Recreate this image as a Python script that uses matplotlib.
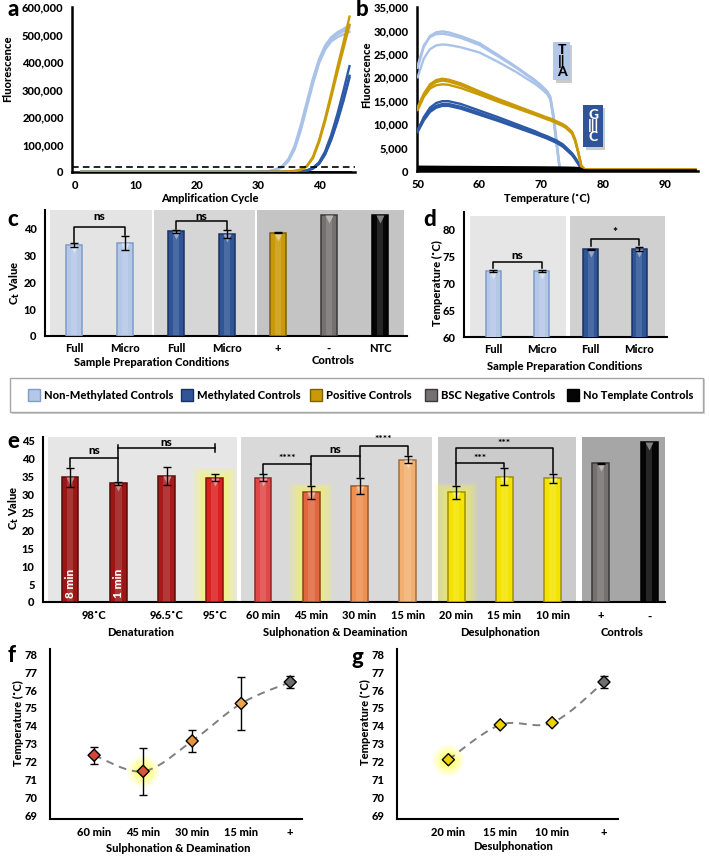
import numpy as np
import matplotlib
matplotlib.use('Agg')
import matplotlib.pyplot as plt
from matplotlib.patches import Rectangle
from matplotlib.ticker import FuncFormatter
from matplotlib.transforms import offset_copy

plt.rcParams['font.family'] = ['Lato', 'DejaVu Sans']
plt.rcParams['font.weight'] = 900
plt.rcParams['axes.labelweight'] = 900
plt.rcParams['font.size'] = 8

# ---------------- data ----------------
# a: amplification curves
amp_cycles = [1, 28, 30, 31, 32, 33, 34, 35, 36, 37, 38, 39, 40, 41, 42, 43, 44, 45]
amp_nonmeth = [
    [0, 0, 500, 1500, 4000, 10000, 22000, 48000, 95000, 170000, 255000, 340000, 410000, 460000, 490000, 508000, 520000, 535000],
    [0, 0, 400, 1200, 3500, 9000, 20000, 44000, 88000, 160000, 245000, 330000, 402000, 452000, 482000, 500000, 512000, 525000],
    [0, 0, 300, 1000, 3000, 8000, 18000, 40000, 82000, 150000, 235000, 320000, 395000, 445000, 475000, 490000, 500000, 510000],
]
amp_positive = [
    [0, 0, 0, 0, 200, 500, 1000, 2000, 4000, 9000, 22000, 55000, 115000, 195000, 285000, 380000, 470000, 565000],
    [0, 0, 0, 0, 150, 400, 800, 1600, 3500, 8000, 20000, 50000, 108000, 185000, 272000, 362000, 448000, 535000],
]
amp_meth = [
    [0, 0, 0, 0, 0, 100, 300, 600, 1200, 2500, 6000, 15000, 35000, 75000, 135000, 210000, 295000, 385000],
    [0, 0, 0, 0, 0, 100, 250, 500, 1000, 2200, 5000, 13000, 31000, 67000, 122000, 190000, 265000, 350000],
    [0, 0, 0, 0, 0, 80, 200, 450, 900, 2000, 4600, 12000, 29000, 63000, 116000, 182000, 258000, 343000],
]
amp_ntc = [0, 0, 0, 0, 0, 0, 0, 0, 0, 0, 0, 0, 0, 0, 0, 0, 0, 0]
amp_threshold = 20000

# b: melt curves
melt_temp = [50, 51, 52, 53, 54, 55, 57, 60, 63, 66, 69, 70, 71, 71.5, 72, 72.5, 73, 73.5, 74, 75, 75.5, 76, 76.5, 77, 78, 85, 95]
melt_nonmeth = [
    [22000, 26500, 28800, 29600, 29800, 29600, 28800, 27300, 24800, 22200, 19400, 18300, 17000, 15800, 12000, 6500, 800, 0, 0, 0, 0, 0, 0, 0, 0, 0, 0],
    [22500, 26800, 28600, 29200, 29300, 29100, 28400, 26900, 24500, 22000, 19200, 18100, 16800, 15500, 11500, 6000, 600, 0, 0, 0, 0, 0, 0, 0, 0, 0, 0],
    [20000, 24000, 26000, 26800, 27000, 26900, 26400, 25300, 23300, 21100, 18600, 17600, 16400, 15200, 11000, 5500, 500, 0, 0, 0, 0, 0, 0, 0, 0, 0, 0],
]
melt_positive = [
    [13600, 16500, 18500, 19400, 19700, 19500, 18700, 17000, 15400, 13900, 12400, 11900, 11400, 11200, 10900, 10600, 10300, 10000, 9600, 8400, 6800, 4200, 1200, 400, 350, 350, 300],
    [13300, 16200, 18100, 19000, 19300, 19100, 18300, 16700, 15100, 13700, 12200, 11700, 11200, 11000, 10700, 10400, 10100, 9800, 9400, 8200, 6600, 4000, 1100, 380, 320, 320, 290],
    [13000, 15800, 17600, 18300, 18500, 18400, 17700, 16300, 14800, 13400, 12000, 11500, 11000, 10800, 10500, 10200, 9900, 9600, 9200, 8000, 6400, 3900, 1000, 350, 300, 300, 280],
]
melt_meth = [
    [8600, 11500, 13500, 14500, 14900, 14900, 14300, 12900, 11500, 10000, 8500, 7900, 7400, 7100, 6800, 6500, 6100, 5700, 5100, 3800, 2900, 1800, 600, 250, 200, 200, 200],
    [8800, 11200, 13000, 13900, 14300, 14300, 13700, 12400, 11000, 9600, 8100, 7600, 7100, 6800, 6500, 6200, 5800, 5400, 4800, 3600, 2700, 1600, 500, 220, 200, 200, 200],
    [8300, 10800, 12600, 13500, 13900, 13900, 13300, 12000, 10700, 9300, 7900, 7400, 6900, 6600, 6300, 6000, 5600, 5200, 4600, 3400, 2500, 1500, 450, 200, 180, 180, 180],
]
melt_black = [
    [900, 890, 880, 870, 860, 850, 840, 820, 800, 780, 760, 750, 740, 735, 730, 725, 720, 710, 700, 680, 660, 620, 400, 100, 50, 50, 50],
    [500, 495, 490, 485, 480, 475, 470, 460, 450, 440, 430, 425, 420, 418, 415, 412, 410, 405, 400, 390, 380, 350, 200, 50, 20, 20, 20],
    [150, 150, 145, 145, 140, 140, 135, 130, 125, 120, 115, 112, 110, 108, 106, 104, 102, 100, 98, 95, 90, 80, 50, 10, 0, 0, 0],
]
melt_tags = ['T\n||\nA', 'G\n|||\nC']

# c: Ct values, sample preparation
c_labels = ['Full', 'Micro', 'Full', 'Micro', '+', '-', 'NTC']
c_ct = [33.7, 34.5, 38.8, 37.8, 38.2, 44.7, 44.7]
c_err = [0.6, 2.6, 0.6, 1.4, 0.2, 0.0, 0.0]

# d: melt temperature, sample preparation
d_labels = ['Full', 'Micro', 'Full', 'Micro']
d_tm = [72.3, 72.3, 76.3, 76.3]
d_err = [0.2, 0.2, 0.12, 0.35]

# e: Ct values, bisulfite conversion steps
e_ct = [34.8, 33.2, 35.1, 34.7, 34.7, 30.6, 32.5, 39.8, 30.6, 35.0, 34.6, 38.8, 44.8]
e_err = [2.6, 0.45, 2.5, 1.0, 1.0, 1.8, 2.2, 1.1, 1.8, 2.4, 1.3, 0.15, 0.0]
e_ticklabels = ['98˚C', '96.5˚C', '95˚C', '60 min', '45 min', '30 min', '15 min',
                '20 min', '15 min', '10 min', '+', '-']
e_groups = ['Denaturation', 'Sulphonation & Deamination', 'Desulphonation', 'Controls']
e_bar_text = ['8 min', '1 min']

# f / g: melt temperature
f_labels = ['60 min', '45 min', '30 min', '15 min', '+']
f_tm = [72.35, 71.45, 73.15, 75.25, 76.45]
f_err = [0.47, 1.33, 0.6, 1.5, 0.32]
g_labels = ['20 min', '15 min', '10 min', '+']
g_tm = [72.1, 74.05, 74.17, 76.45]
g_err = [0.08, 0.08, 0.08, 0.35]

legend_names = ['Non-Methylated Controls', 'Methylated Controls', 'Positive Controls',
                'BSC Negative Controls', 'No Template Controls']

# ---------------- colours ----------------
LB, LB_E = '#b4c7e7', '#7f9cc8'
DB, DB_E = '#2f5597', '#1a3260'
GOLD, GOLD_E = '#c99a06', '#7f6000'
GREY, GREY_E = '#767171', '#3a3838'
BLK, BLK_E = '#050505', '#000000'
LINE_LB, LINE_DB, LINE_GOLD = '#a9c3e8', '#2d5aa6', '#c99a06'

e_colors = ['#9c1616', '#9c1616', '#a81a1a', '#dc2020', '#e04848', '#e0683e', '#ee9050', '#f2b070',
            '#f4e200', '#f4e200', '#f4e200', GREY, BLK]
e_edges = ['#5a0a0a', '#5a0a0a', '#600c0c', '#8a1010', '#902828', '#904020', '#9a5a28', '#a07040',
           '#a09000', '#a09000', '#a09000', GREY_E, BLK_E]
f_colors = ['#d9443a', '#dc5538', '#e8913f', '#eba44a', '#6e6e6e']
g_colors = ['#eed200', '#eed200', '#eed200', '#6e6e6e']

W, H = 709, 856
fig = plt.figure(figsize=(W / 100, H / 100), dpi=100)
fig.patch.set_facecolor('white')


def pos(x0, y0, x1, y1):
    return [x0 / W, 1 - y1 / H, (x1 - x0) / W, (y1 - y0) / H]


def ftext(x, y, s, **kw):
    fig.text(x / W, 1 - y / H, s, ha=kw.pop('ha', 'center'), va=kw.pop('va', 'center'), **kw)


def style(ax, lw=1.5, xpad=5, ypad=6):
    for s in ['top', 'right']:
        ax.spines[s].set_visible(False)
    for s in ['left', 'bottom']:
        ax.spines[s].set_linewidth(lw)
        ax.spines[s].set_color('black')
    ax.tick_params(length=0, labelsize=8)
    ax.tick_params(axis='x', pad=xpad)
    ax.tick_params(axis='y', pad=ypad)


def lighten(c, f):
    r = np.array(matplotlib.colors.to_rgb(c))
    return tuple(r + (1 - r) * f)


def fancy_bars(ax, xs, hs, colors, edges, w):
    ax.bar(xs, hs, w, color=colors, linewidth=0, zorder=3)
    ax.bar(xs, hs, w * 0.4, color=[lighten(c, 0.3) for c in colors], alpha=0.45, linewidth=0, zorder=3.1)
    ax.bar(xs, hs, w, fill=False, edgecolor=edges, linewidth=1.1, zorder=3.2)
    tr = offset_copy(ax.transData, fig=fig, y=-4, units='dots')
    for x, h, c in zip(xs, hs, colors):
        ax.plot(x, h, marker='v', ms=5.5, color=lighten(c, 0.5), mec='none', transform=tr, zorder=3.3)


def bar_glow(ax, x, h, w, yscale):
    for pad in [0.26, 0.2, 0.14, 0.08]:
        ax.add_patch(Rectangle((x - w / 2 - pad, 0), w + 2 * pad, h + pad * yscale,
                               color='#ffff30', alpha=0.15, lw=0, zorder=2))


def bracket(ax, x1, x2, y, low1, low2, label, ty, fs=8.5):
    ax.plot([x1, x1, x2, x2], [low1, y, y, low2], color='black', lw=1.1, zorder=5)
    ax.text((x1 + x2) / 2, ty, label, ha='center', va='center', fontsize=fs, zorder=5)


def smooth(xs, ys, n=40):
    pts = np.column_stack([xs, ys]).astype(float)
    P = np.vstack([pts[0], pts, pts[-1]])
    out = []
    t = np.linspace(0, 1, n)[:, None]
    for i in range(1, len(P) - 2):
        p0, p1, p2, p3 = P[i - 1], P[i], P[i + 1], P[i + 2]
        out.append(0.5 * (2 * p1 + (-p0 + p2) * t + (2 * p0 - 5 * p1 + 4 * p2 - p3) * t ** 2
                          + (-p0 + 3 * p1 - 3 * p2 + p3) * t ** 3))
    out = np.vstack(out)
    return out[:, 0], out[:, 1]


# ---------------- a ----------------
ax = fig.add_axes(pos(72, 7, 355, 172))
ax.plot(amp_cycles, amp_ntc, color='black', lw=2, zorder=2)
for v in amp_nonmeth:
    ax.plot(amp_cycles, v, color=LINE_LB, lw=1.7, zorder=3)
for v in amp_meth:
    ax.plot(amp_cycles, v, color=LINE_DB, lw=1.7, zorder=3)
for v in amp_positive:
    ax.plot(amp_cycles, v, color=LINE_GOLD, lw=1.7, zorder=4)
ax.axhline(amp_threshold, color='black', ls=(0, (4, 2.5)), lw=1.2, zorder=5)
ax.set_xlim(-0.5, 45.9)
ax.set_ylim(0, 600000)
ax.set_xticks([0, 10, 20, 30, 40])
ax.set_yticks(np.arange(0, 600001, 100000))
ax.yaxis.set_major_formatter(FuncFormatter(lambda v, _: f'{v:,.0f}'))
style(ax, lw=1.8, xpad=6, ypad=6)
ftext(8, 69, 'Fluorescence', rotation=90)
ftext(210, 198, 'Amplification Cycle')
ftext(13, 10, 'a', fontsize=16)

# ---------------- b ----------------
ax = fig.add_axes(pos(417, 7, 698, 171))
for v in melt_nonmeth:
    ax.plot(melt_temp, v, color=LINE_LB, lw=1.7, zorder=3)
for v in melt_meth:
    ax.plot(melt_temp, v, color=LINE_DB, lw=1.7, zorder=3)
for v in melt_positive:
    ax.plot(melt_temp, v, color=LINE_GOLD, lw=1.7, zorder=4)
for v in melt_black:
    ax.plot(melt_temp, v, color='black', lw=1.8, zorder=5)
ax.set_xlim(49.9, 95.4)
ax.set_ylim(0, 35000)
ax.set_xticks([50, 60, 70, 80, 90])
ax.set_yticks(np.arange(0, 35001, 5000))
ax.yaxis.set_major_formatter(FuncFormatter(lambda v, _: f'{v:,.0f}'))
style(ax, lw=1.8, xpad=6, ypad=6)
# base-pair tags: (x0, x1, y0, y1) boxes in data units
for txt, (x0, x1, y0, y1), fc, tc in zip(melt_tags,
                                          [(72.0, 74.6, 19400, 27500), (76.8, 80.0, 5100, 14100)],
                                          [LB, DB], ['black', 'white']):
    ax.add_patch(Rectangle((x0 + 0.4, y0 - 700), x1 - x0, y1 - y0, fc='#8c8c8c', ec='none', alpha=0.45, zorder=6))
    ax.add_patch(Rectangle((x0, y0), x1 - x0, y1 - y0, fc=fc, ec='none', zorder=7))
    ax.text((x0 + x1) / 2, (y0 + y1) / 2, txt, ha='center', va='center', fontsize=10, color=tc,
            linespacing=0.85, zorder=8)
ftext(367, 75, 'Fluorescence', rotation=90)
ftext(547, 198, 'Temperature (˚C)')
ftext(362, 10, 'b', fontsize=16)

# ---------------- c ----------------
ax = fig.add_axes(pos(45, 210, 407, 336))
cx = np.arange(len(c_labels))
for a0, a1, col in [(-0.47, 1.53, '#e4e4e4'), (1.57, 3.55, '#d6d6d6'), (3.59, 6.47, '#c4c4c4')]:
    ax.axvspan(a0, a1, color=col, lw=0, zorder=0)
c_cols = [LB, LB, DB, DB, GOLD, GREY, BLK]
c_edges = [LB_E, LB_E, DB_E, DB_E, GOLD_E, GREY_E, BLK_E]
fancy_bars(ax, cx, c_ct, c_cols, c_edges, 0.31)
ax.errorbar(cx[:5], c_ct[:5], yerr=c_err[:5], fmt='none', ecolor='black', elinewidth=1, capsize=3, capthick=1, zorder=6)
bracket(ax, 0, 1, 40.3, c_ct[0] + c_err[0] + 0.2, c_ct[1] + c_err[1] + 0.2, 'ns', 44.4)
bracket(ax, 2, 3, 42.5, c_ct[2] + c_err[2] + 0.2, c_ct[3] + c_err[3] + 0.2, 'ns', 44.4)
ax.set_xlim(-0.57, 6.53)
ax.set_ylim(0, 46.7)
ax.set_xticks(cx, c_labels)
ax.set_yticks([0, 10, 20, 30, 40])
style(ax, lw=1.5, xpad=5, ypad=6)
ftext(15, 283, 'C$_\\mathbf{t}$ Value', rotation=90)
ftext(152, 362, 'Sample Preparation Conditions')
ftext(333, 361, 'Controls')
ftext(13, 220, 'c', fontsize=16)

# ---------------- d ----------------
ax = fig.add_axes(pos(464, 212, 667, 337))
dx = np.arange(len(d_labels))
for a0, a1, col in [(-0.47, 1.5, '#e6e6e6'), (1.57, 3.53, '#d0d0d0')]:
    ax.add_patch(Rectangle((a0, 60), a1 - a0, 22.5, color=col, lw=0, zorder=0))
fancy_bars(ax, dx, d_tm, [LB, LB, DB, DB], [LB_E, LB_E, DB_E, DB_E], 0.31)
ax.errorbar(dx, d_tm, yerr=d_err, fmt='none', ecolor='black', elinewidth=1, capsize=3, capthick=1, zorder=6)
bracket(ax, 0, 1, 74.0, 72.8, 72.8, 'ns', 75.1)
bracket(ax, 2, 3, 78.1, 76.8, 77.0, '*', 79.4)
ax.set_xlim(-0.6, 3.57)
ax.set_ylim(60, 83.2)
ax.set_xticks(dx, d_labels)
ax.set_yticks([60, 65, 70, 75, 80])
style(ax, lw=1.5, xpad=5, ypad=6)
ftext(437, 283, 'Temperature (˚C)', rotation=90)
ftext(565, 366, 'Sample Preparation Conditions')
ftext(430, 219, 'd', fontsize=16)

# ---------------- legend strip ----------------
fig.add_artist(Rectangle((12 / W, 1 - 414 / H), 693 / W, 35 / H, transform=fig.transFigure,
                         fc='#b0b0b0', ec='none', alpha=0.6))
fig.add_artist(Rectangle((10 / W, 1 - 412 / H), 693 / W, 34 / H, transform=fig.transFigure,
                         fc='white', ec='#a6a6a6', lw=1))
legend_cols = [LB, DB, GOLD, GREY, BLK]
legend_edges = [LB_E, DB_E, GOLD_E, GREY_E, BLK_E]
for name, col, ec, x0 in zip(legend_names, legend_cols, legend_edges, [28, 181, 310, 425, 567]):
    fig.add_artist(Rectangle((x0 / W, 1 - 401 / H), 12 / W, 12 / H, transform=fig.transFigure,
                             fc=col, ec=ec, lw=1))
    ftext(x0 + 16, 395, name, ha='left', fontsize=8)

# ---------------- e ----------------
ax = fig.add_axes(pos(43, 437, 665, 602))
ex = np.arange(len(e_ct))
for a0, a1, col in [(-0.45, 3.46, '#e6e6e6'), (3.55, 7.5, '#d9d9d9'), (7.62, 10.49, '#cbcbcb'), (10.6, 12.33, '#a6a6a6')]:
    ax.axvspan(a0, a1, color=col, lw=0, zorder=0)
for i in [3, 5, 8]:
    bar_glow(ax, ex[i], e_ct[i], 0.35, 10)
fancy_bars(ax, ex, e_ct, e_colors, e_edges, 0.35)
ax.errorbar(ex[:12], e_ct[:12], yerr=e_err[:12], fmt='none', ecolor='black', elinewidth=1, capsize=3, capthick=1, zorder=6)
for i, s in enumerate(e_bar_text):
    ax.text(ex[i], 5.2, s, rotation=90, ha='center', va='center', color='white', fontsize=8.5, zorder=7)
top = [c + e for c, e in zip(e_ct, e_err)]
bracket(ax, 0, 1, 40.3, top[0] + 0.2, top[1] + 0.2, 'ns', 42.2)
ax.plot([1, 3], [43, 43], color='black', lw=1.1, zorder=5)
ax.plot([1, 1], [40.3, 43.9], color='black', lw=1.1, zorder=5)
ax.plot([3, 3], [41.8, 44.1], color='black', lw=1.1, zorder=5)
ax.text(2, 44.6, 'ns', ha='center', va='center', fontsize=8.5, zorder=5)
bracket(ax, 4, 5, 38.5, top[4] + 0.2, top[5] + 0.2, '****', 40.2, fs=7.5)
bracket(ax, 5, 6, 40.9, 38.5, top[6] + 0.2, 'ns', 42.7)
bracket(ax, 6, 7, 43.7, 40.9, top[7] + 0.2, '****', 45.3, fs=7.5)
bracket(ax, 8, 9, 38.7, top[8] + 0.2, top[9] + 0.2, '***', 40.1, fs=7.5)
bracket(ax, 8, 10, 43.0, 38.7, top[10] + 0.2, '***', 44.4, fs=7.5)
ax.set_xlim(-0.56, 12.33)
ax.set_ylim(0, 46.1)
ax.set_xticks([0.5] + list(ex[2:]), e_ticklabels)
ax.set_yticks(np.arange(0, 46, 5))
style(ax, lw=1.5, xpad=6, ypad=6)
for name, x in zip(e_groups, [141, 335, 500, 622]):
    ftext(x, 633, name)
ftext(14, 508, 'C$_\\mathbf{t}$ Value', rotation=90)
ftext(13, 441, 'e', fontsize=16)

# ---------------- f ----------------
ax = fig.add_axes(pos(50, 649, 302, 819))
fx = np.arange(len(f_labels))
sx, sy = smooth(fx, f_tm)
ax.plot(sx, sy, color='#7f7f7f', ls=(0, (4, 3)), lw=1.4, zorder=2)
for s, a in [(520, 0.12), (360, 0.16), (220, 0.22), (120, 0.3)]:
    ax.scatter(fx[1], f_tm[1], s=s, color='#ffff30', alpha=a, lw=0, zorder=1)
ax.errorbar(fx, f_tm, yerr=f_err, fmt='none', ecolor='black', elinewidth=1, capsize=3, capthick=1, zorder=3)
ax.scatter(fx, f_tm, marker='D', s=38, c=f_colors, edgecolors='black', linewidths=1, zorder=4)
ax.set_xlim(-0.9, 4.24)
ax.set_ylim(68.78, 78.3)
ax.set_xticks(fx, f_labels)
ax.set_yticks(np.arange(69, 79, 1))
style(ax, lw=1.5, xpad=6, ypad=9)
ftext(18, 723, 'Temperature (˚C)', rotation=90)
ftext(178, 848, 'Sulphonation & Deamination')
ftext(12, 655, 'f', fontsize=16)

# ---------------- g ----------------
ax = fig.add_axes(pos(397, 649, 618, 819))
gx = np.arange(len(g_labels))
sx, sy = smooth(gx, g_tm)
ax.plot(sx, sy, color='#7f7f7f', ls=(0, (4, 3)), lw=1.4, zorder=2)
for s, a in [(520, 0.12), (360, 0.16), (220, 0.22), (120, 0.3)]:
    ax.scatter(gx[0], g_tm[0], s=s, color='#ffff30', alpha=a, lw=0, zorder=1)
ax.errorbar(gx, g_tm, yerr=g_err, fmt='none', ecolor='black', elinewidth=1, capsize=3, capthick=1, zorder=3)
ax.scatter(gx, g_tm, marker='D', s=38, c=g_colors, edgecolors='black', linewidths=1, zorder=4)
ax.set_xlim(-0.99, 3.27)
ax.set_ylim(68.78, 78.3)
ax.set_xticks(gx, g_labels)
ax.set_yticks(np.arange(69, 79, 1))
style(ax, lw=1.5, xpad=6, ypad=9)
ftext(365, 722, 'Temperature (˚C)', rotation=90)
ftext(513, 847, 'Desulphonation')
ftext(357, 657, 'g', fontsize=16)

fig.savefig('out.png', dpi=100, facecolor='white')
